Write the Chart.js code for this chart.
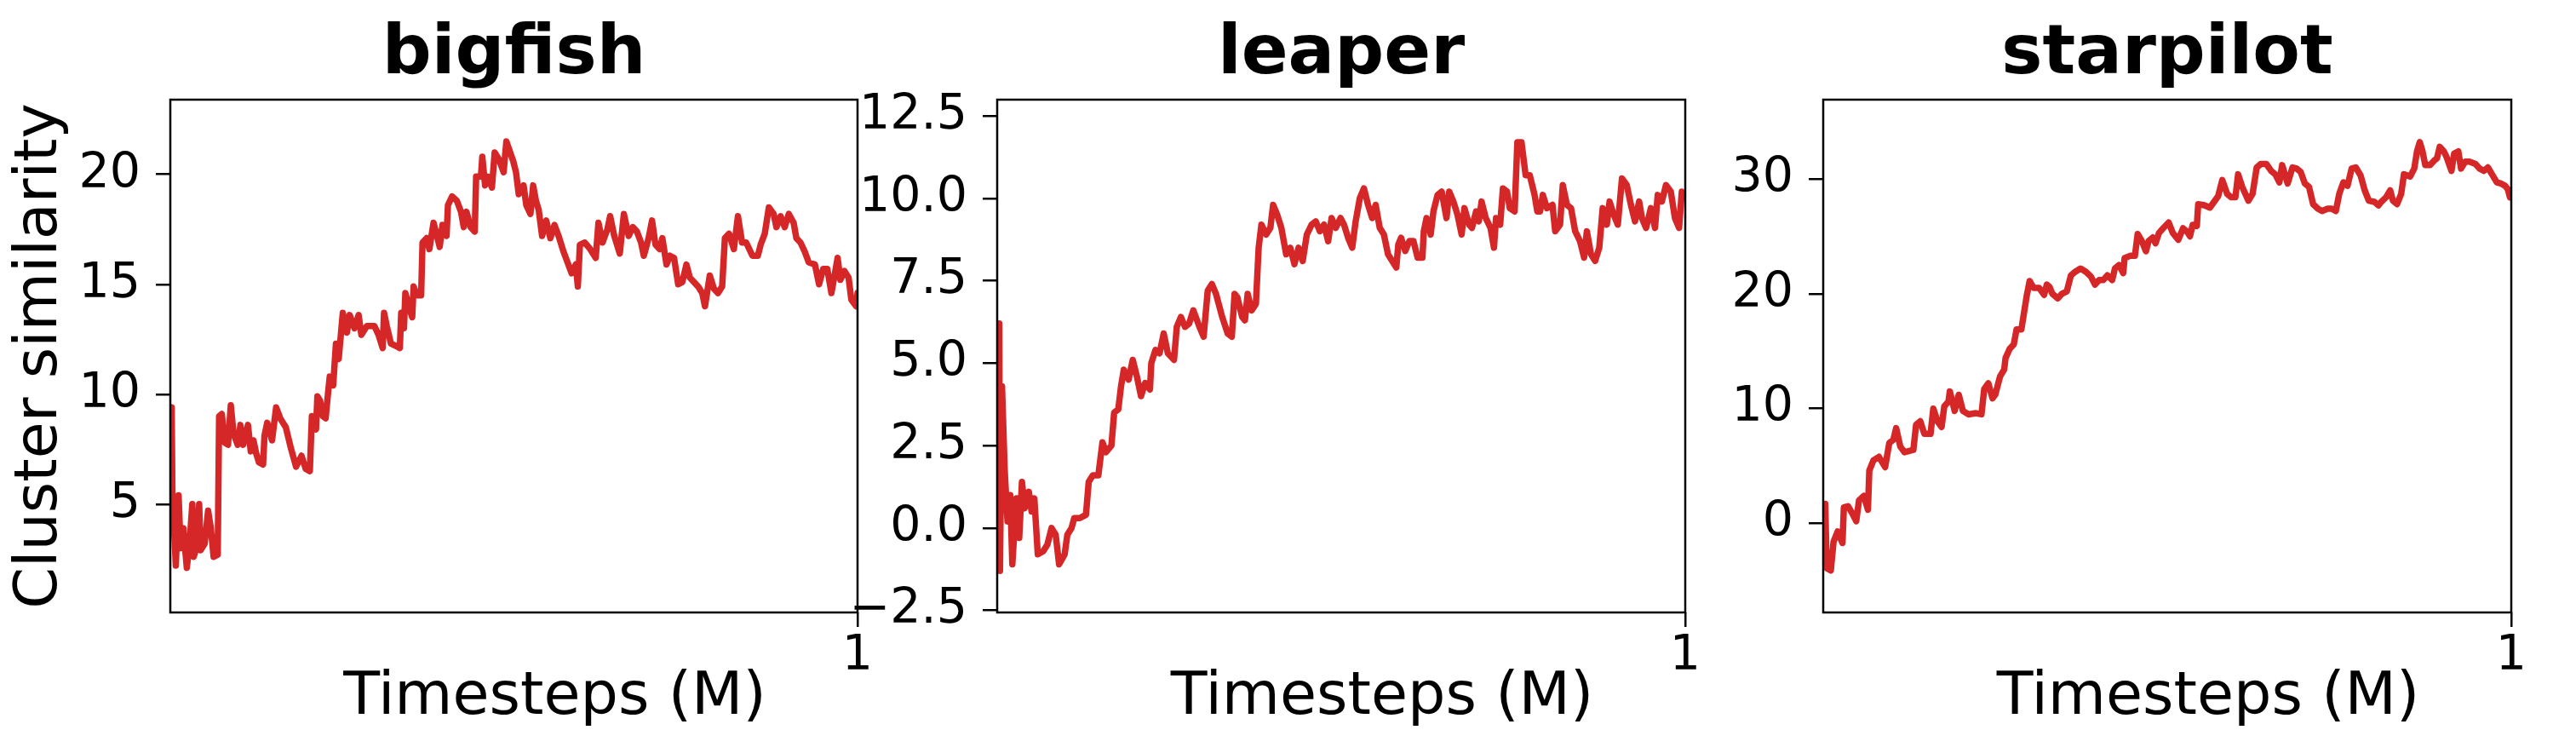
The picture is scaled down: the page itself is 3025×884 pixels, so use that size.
<!DOCTYPE html>
<html>
<head>
<meta charset="utf-8">
<title>Cluster similarity</title>
<script src="https://cdn.jsdelivr.net/npm/chart.js@4.4.1/dist/chart.umd.min.js"></script>
<style>
  html, body { margin: 0; padding: 0; background: #fff; }
  body { width: 3025px; height: 884px; position: relative; overflow: hidden; }
</style>
</head>
<body>
<script>
// ---- data ----
const panelTitles = ['bigfish', 'leaper', 'starpilot'];
const yLabel = 'Cluster similarity';
const xLabel = 'Timesteps (M)';
const xTicks = [1];
const bigfishTicks = [5, 10, 15, 20];
const leaperTicks = [-2.5, 0, 2.5, 5, 7.5, 10, 12.5];
const starpilotTicks = [0, 10, 20, 30];
const yLimits = [[0.07, 23.4], [-2.56, 12.99], [-7.75, 36.9]];

const bigfishX = [
  0.002,0.003,0.008,0.012,0.015,0.019,0.024,0.028,0.032,0.034,
  0.038,0.042,0.044,0.050,0.055,0.059,0.063,0.069,0.071,0.075,
  0.079,0.084,0.088,0.092,0.098,0.102,0.106,0.113,0.117,0.121,
  0.125,0.129,0.135,0.137,0.141,0.148,0.154,0.160,0.168,0.175,
  0.183,0.191,0.197,0.203,0.206,0.212,0.214,0.218,0.222,0.226,
  0.230,0.232,0.237,0.241,0.245,0.251,0.257,0.261,0.268,0.274,
  0.278,0.286,0.297,0.303,0.309,0.311,0.315,0.321,0.328,0.334,
  0.336,0.340,0.342,0.348,0.352,0.354,0.359,0.365,0.367,0.373,
  0.377,0.383,0.388,0.392,0.396,0.402,0.404,0.410,0.417,0.423,
  0.427,0.431,0.437,0.443,0.445,0.452,0.454,0.458,0.462,0.468,
  0.472,0.478,0.485,0.489,
  0.499,0.503,0.507,0.514,0.518,0.524,0.528,0.532,0.536,0.541,
  0.547,0.553,0.559,0.565,0.572,0.578,0.584,0.590,0.593,0.596,
  0.603,0.611,0.619,0.623,0.629,0.636,0.640,0.646,0.654,0.660,
  0.667,0.673,0.679,0.685,0.689,0.696,0.701,0.706,0.712,0.716,
  0.722,0.727,0.733,0.739,0.745,0.751,0.756,0.762,0.768,0.774,
  0.778,0.785,0.791,0.797,0.803,0.807,0.813,0.820,0.826,0.832,
  0.838,0.847,0.855,0.859,0.865,0.871,0.878,0.882,0.888,0.894,
  0.900,0.907,0.911,0.917,0.923,0.929,0.938,0.944,0.950,0.956,
  0.962,0.971,0.975,0.981,0.987,0.991,0.998,1.000
];
const bigfishY = [
  9.4,5.6,2.2,5.4,3.0,3.9,2.1,3.2,5.0,2.6,
  3.0,5.0,2.9,3.2,4.7,3.9,2.6,2.7,9.0,9.1,
  7.8,7.7,9.5,8.2,7.7,8.6,7.7,8.6,7.4,7.9,
  7.3,6.9,6.8,8.1,8.7,7.9,9.4,8.9,8.5,7.6,
  6.7,7.2,6.6,6.5,9.0,8.4,9.9,9.7,9.0,8.9,
  10.2,10.8,10.4,12.3,11.6,13.7,12.8,13.6,13.0,13.6,
  12.7,13.1,13.1,12.7,12.1,13.7,13.1,12.3,12.2,12.1,
  13.7,13.0,14.6,13.9,13.5,14.9,14.5,14.5,16.9,17.1,
  16.6,17.8,17.2,16.7,17.7,17.2,18.6,19.0,18.8,18.3,
  17.6,18.3,17.6,17.4,19.9,19.9,20.8,19.5,19.9,19.4,
  21.0,20.7,20.1,21.5,
  20.6,20.1,19.1,19.5,18.6,18.2,19.5,18.8,18.4,17.2,
  17.9,17.1,17.7,17.2,16.5,16.0,15.5,15.9,14.9,16.8,
  16.9,16.6,16.2,17.8,16.9,17.5,18.1,17.2,16.4,18.2,
  17.2,17.6,17.4,16.9,16.3,17.1,17.9,16.8,16.6,17.1,
  15.9,16.3,16.2,15.0,15.1,15.9,15.3,15.1,14.9,14.6,
  14.0,15.4,14.8,14.6,14.9,17.1,17.3,16.6,18.1,16.9,
  16.9,16.3,16.3,16.8,17.3,18.5,18.2,17.6,18.1,17.6,
  18.2,17.8,17.1,16.9,16.5,16.0,15.9,15.0,15.7,15.7,
  14.6,16.2,15.2,15.6,15.3,14.3,14.0,14.6
];

const leaperX = [
  0.003,0.004,0.007,0.011,0.015,0.019,0.022,0.028,0.032,0.036,
  0.040,0.046,0.050,0.054,0.059,0.067,0.073,0.079,0.085,0.090,
  0.098,0.102,0.108,0.112,0.120,0.129,0.133,0.139,0.147,0.153,
  0.158,0.166,0.170,0.176,0.180,0.184,0.191,0.197,0.203,0.209,
  0.215,0.222,0.224,0.230,0.236,0.242,0.248,0.257,0.261,0.267,
  0.273,0.279,0.285,0.294,0.300,0.306,0.312,0.318,0.327,0.335,
  0.341,0.345,0.349,0.356,0.360,0.364,0.370,0.376,0.380,0.384,
  0.391,0.397,0.401,0.407,0.413,0.420,0.426,0.432,0.438,0.444,
  0.450,0.457,0.463,0.469,0.475,0.481,0.486,0.492,0.499,
  0.504,0.510,0.516,0.521,0.527,0.533,0.539,0.545,0.550,0.556,
  0.562,0.568,0.574,0.580,0.583,0.587,0.593,0.599,0.605,0.611,
  0.618,0.620,0.624,0.630,0.634,0.640,0.646,0.653,0.657,0.663,
  0.669,0.675,0.679,0.686,0.690,0.696,0.700,0.704,0.710,0.717,
  0.722,0.725,0.731,0.735,0.741,0.745,0.752,0.756,0.762,0.768,
  0.774,0.781,0.785,0.789,0.793,0.799,0.807,0.811,0.818,0.822,
  0.828,0.834,0.840,0.847,0.853,0.857,0.863,0.869,0.875,0.880,
  0.886,0.890,0.896,0.902,0.908,0.915,0.921,0.927,0.933,0.937,
  0.943,0.950,0.956,0.960,0.966,0.972,0.979,0.985,0.991,0.995,
  0.998
];
const leaperY = [
  6.2,-1.3,4.3,1.7,0.2,1.0,-1.1,0.9,-0.3,1.4,
  0.6,1.1,0.5,0.9,-0.8,-0.7,-0.5,0.0,-0.2,-1.1,
  -0.8,-0.2,0.0,0.3,0.3,0.4,1.4,1.6,1.6,2.6,
  2.3,2.5,3.5,3.6,4.3,4.8,4.5,5.1,4.6,4.0,
  4.4,4.2,5.0,5.4,5.3,5.9,5.3,5.1,6.1,6.4,
  6.1,6.2,6.6,6.1,5.8,7.2,7.4,7.1,6.4,5.9,
  5.8,7.1,7.0,6.4,6.3,7.1,6.6,6.8,8.5,9.2,
  8.9,9.1,9.8,9.5,9.1,8.3,8.5,8.0,8.5,8.1,
  8.9,9.2,9.3,9.0,9.2,8.7,9.4,9.1,9.4,
  9.2,8.8,8.5,9.3,10.0,10.3,9.8,9.4,9.8,9.1,
  8.9,8.3,8.1,7.9,8.6,8.8,8.4,8.7,8.7,8.2,
  8.2,9.0,9.4,8.9,9.6,10.1,10.2,9.4,10.2,9.9,
  9.5,8.9,9.7,9.2,9.1,9.6,9.3,9.9,9.4,9.1,
  8.5,9.4,9.2,10.3,10.2,9.7,9.6,11.7,11.7,10.7,
  10.7,10.1,9.6,9.6,10.1,9.7,9.8,9.0,9.2,10.4,
  9.8,9.7,9.0,8.7,8.2,9.0,8.3,8.1,8.5,9.7,
  9.2,9.9,9.5,9.2,10.6,10.4,9.8,9.3,9.9,9.4,
  9.1,9.7,9.1,10.1,9.9,10.4,10.2,9.4,9.1,10.2,
  10.1
];

const starpilotX = [
  0.003,0.005,0.011,0.015,0.021,0.028,0.030,0.036,0.042,0.048,
  0.052,0.059,0.065,0.067,0.073,0.081,0.090,0.096,0.102,0.106,
  0.112,0.118,0.131,0.135,0.141,0.147,0.156,0.160,0.166,0.172,
  0.176,0.182,0.184,0.191,0.197,0.203,0.211,0.222,0.230,0.234,
  0.240,0.246,0.250,0.257,0.263,0.265,0.271,0.277,0.281,0.288,
  0.292,0.296,0.300,0.306,0.314,0.321,0.325,0.329,0.333,0.341,
  0.347,0.354,0.360,0.366,0.374,0.382,0.389,0.395,0.401,0.407,
  0.413,0.420,0.424,0.430,0.436,0.438,0.446,0.453,0.457,0.463,
  0.469,0.473,0.479,0.483,0.488,0.494,
  0.502,0.508,0.516,0.523,0.529,0.533,0.537,0.543,0.545,0.554,
  0.562,0.568,0.574,0.580,0.587,0.593,0.599,0.603,0.609,0.618,
  0.624,0.630,0.636,0.644,0.651,0.657,0.663,0.667,0.671,0.675,
  0.682,0.688,0.694,0.700,0.706,0.712,0.719,0.725,0.733,0.739,
  0.745,0.750,0.756,0.762,0.768,0.774,0.781,0.787,0.793,0.801,
  0.807,0.811,0.818,0.824,0.828,0.834,0.840,0.844,0.853,0.859,
  0.863,0.867,0.871,0.875,0.882,0.888,0.892,0.896,0.902,0.906,
  0.913,0.917,0.923,0.927,0.933,0.939,0.948,0.954,0.960,0.966,
  0.972,0.979,0.985,0.991,0.995,0.998
];
const starpilotY = [
  1.7,-3.9,-4.1,-1.6,-0.7,-1.7,1.4,1.5,0.9,0.2,
  2.0,2.4,1.2,4.6,5.5,5.8,4.9,7.0,7.3,8.3,
  6.7,6.2,6.4,8.6,8.9,7.8,7.8,10.0,8.9,8.4,
  10.2,10.6,11.5,9.8,11.2,9.8,9.5,9.6,9.5,11.7,
  12.2,10.9,11.2,12.8,13.4,14.4,15.2,15.6,16.9,16.9,
  18.4,19.9,21.1,20.5,20.5,19.9,20.8,20.6,20.0,19.6,
  20.0,20.2,21.6,21.9,22.2,21.9,21.5,20.8,21.2,21.2,
  21.6,21.2,22.2,22.5,21.8,23.1,23.3,23.3,25.2,24.6,
  23.7,24.6,24.9,24.4,25.3,25.7,
  26.2,25.3,24.7,25.7,25.4,25.0,26.0,25.9,27.8,27.7,
  27.5,28.0,28.5,29.9,28.7,28.4,28.4,30.4,29.3,28.1,
  28.7,31.0,31.3,31.3,30.7,30.4,29.7,31.2,30.4,29.6,
  31.0,30.9,30.6,29.6,29.3,27.8,27.4,27.2,27.4,27.4,
  27.2,28.7,29.7,29.4,30.9,31.0,30.3,29.0,28.1,28.0,
  27.7,28.0,28.4,29.0,28.1,27.8,28.7,30.4,30.2,30.9,
  32.4,33.2,32.4,31.2,31.2,31.6,31.8,32.8,32.4,31.9,
  30.7,32.2,32.4,30.9,31.5,31.5,31.3,30.9,30.7,31.0,
  30.4,29.7,29.6,29.4,29.1,28.4
];

// ---- layout ----
const FONT = "'DejaVu Sans', sans-serif";
const RED = '#d62728';
const H = 884;
const boxes = [[200, 1007], [1171, 1979], [2141, 2949]];  // plot frame left/right
const BOX_TOP = 117, BOX_BOTTOM = 719;
const AXIS_W = 200, PAD_R = 40;

Chart.defaults.font.family = FONT;
Chart.defaults.color = '#000';

const series = [
  { x: bigfishX, y: bigfishY, ticks: bigfishTicks, dec: 0 },
  { x: leaperX, y: leaperY, ticks: leaperTicks, dec: 1 },
  { x: starpilotX, y: starpilotY, ticks: starpilotTicks, dec: 0 }
];

function fmt(v, dec) {
  return v.toFixed(dec).replace('-', '\u2212');
}

// black box round the plot area, drawn over the line like matplotlib spines
const framePlugin = {
  id: 'frame',
  afterDatasetsDraw(chart) {
    const { ctx, chartArea: a } = chart;
    ctx.save();
    ctx.strokeStyle = '#000';
    ctx.lineWidth = 2.5;
    ctx.strokeRect(a.left, a.top, a.right - a.left, a.bottom - a.top);
    ctx.restore();
  }
};

// x label sits a bit right of the axis centre in the original
const xTitlePlugin = {
  id: 'xTitle',
  afterDraw(chart) {
    const { ctx, chartArea: a } = chart;
    ctx.save();
    ctx.font = '70px ' + FONT;
    ctx.fillStyle = '#000';
    ctx.textAlign = 'center';
    ctx.textBaseline = 'alphabetic';
    ctx.fillText(xLabel, (a.left + a.right) / 2 + 48, a.bottom + 119);
    ctx.restore();
  }
};

function buildPanel(i) {
  const [left, right] = boxes[i];
  const s = series[i];
  const w = right - left + AXIS_W + PAD_R;

  const canvas = document.createElement('canvas');
  canvas.width = w;
  canvas.height = H;
  canvas.style.cssText = 'position:absolute;top:0;left:' + (left - AXIS_W) + 'px;width:' + w + 'px;height:' + H + 'px;';
  document.body.appendChild(canvas);

  const n = Math.min(s.x.length, s.y.length);
  const points = [];
  for (let k = 0; k < n; k++) points.push({ x: s.x[k], y: s.y[k] });

  const tickGrid = { drawOnChartArea: false, drawTicks: true, tickLength: 17, color: '#000', lineWidth: 2.5 };

  new Chart(canvas, {
    type: 'line',
    data: {
      datasets: [{
        data: points,
        borderColor: RED,
        borderWidth: 7.5,
        pointRadius: 0,
        tension: 0,
        borderJoinStyle: 'round',
        borderCapStyle: 'round',
        fill: false
      }]
    },
    options: {
      responsive: false,
      animation: false,
      events: [],
      layout: { padding: { left: 0, right: PAD_R, top: 0, bottom: 0 } },
      plugins: {
        legend: { display: false },
        tooltip: { enabled: false },
        title: {
          display: true,
          text: panelTitles[i],
          fullSize: false,
          color: '#000',
          font: { family: FONT, size: 81, weight: 'bold', lineHeight: 1.2 },
          padding: { top: 16.4, bottom: BOX_TOP - 16.4 - 81 * 1.2 }
        }
      },
      scales: {
        x: {
          type: 'linear',
          min: 0,
          max: 1,
          afterBuildTicks: (axis) => { axis.ticks = xTicks.map(v => ({ value: v })); },
          afterFit: (axis) => { axis.height = H - BOX_BOTTOM; },
          grid: tickGrid,
          border: { display: false },
          ticks: {
            autoSkip: false,
            maxRotation: 0,
            padding: 1,
            color: '#000',
            font: { family: FONT, size: 57, lineHeight: 1.2 },
            callback: (v) => String(v)
          }
        },
        y: {
          type: 'linear',
          min: yLimits[i][0],
          max: yLimits[i][1],
          afterBuildTicks: (axis) => { axis.ticks = s.ticks.map(v => ({ value: v })); },
          afterFit: (axis) => { axis.width = AXIS_W; },
          grid: tickGrid,
          border: { display: false },
          title: {
            display: i === 0,
            text: yLabel,
            color: '#000',
            font: { family: FONT, size: 70, lineHeight: 1.2 },
            padding: { top: 6, bottom: 0 }
          },
          ticks: {
            autoSkip: false,
            padding: 18,
            color: '#000',
            font: { family: FONT, size: 57, lineHeight: 1.2 },
            callback: (v) => fmt(v, s.dec)
          }
        }
      }
    },
    plugins: [framePlugin, xTitlePlugin]
  });
}

for (let i = 0; i < 3; i++) buildPanel(i);
</script>
</body>
</html>
